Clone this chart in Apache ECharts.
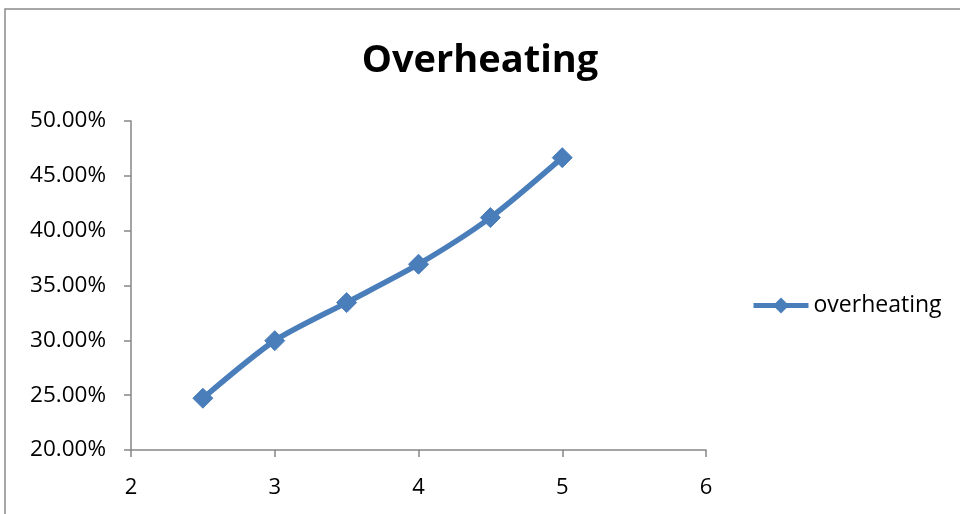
<!DOCTYPE html>
<html>
<head>
<meta charset="utf-8">
<script src="https://cdn.jsdelivr.net/npm/echarts@6/dist/echarts.min.js"></script>
<style>html,body{margin:0;padding:0;background:#fff}#c{width:960px;height:514px}</style>
</head>
<body>
<div id="c"></div>
<script>
const titleText = 'Overheating';
const seriesName = 'overheating';
const xValues = [2.5, 3, 3.5, 4, 4.5, 5];
const yValues = [0.2472, 0.2997, 0.3344, 0.3694, 0.4119, 0.4666];
const xTicks = {min: 2, max: 6, interval: 1};
const yTicks = {min: 0.2, max: 0.5, interval: 0.05};

const chart = echarts.init(document.getElementById('c'), null, {renderer: 'canvas'});
const font = '"Open Sans", "Noto Sans", sans-serif';
chart.setOption({
  animation: false,
  backgroundColor: '#fff',
  graphic: [{
    type: 'rect', silent: true,
    shape: {x: 5, y: 9, width: 1100, height: 700},
    style: {fill: 'none', stroke: '#8a8a8a', lineWidth: 1.5}
  }],
  title: {
    text: titleText, left: 'center', top: 37,
    textStyle: {fontFamily: font, fontWeight: 'bold', fontSize: 38, color: '#000'}
  },
  legend: {
    left: 746, top: 289,
    itemWidth: 55, itemHeight: 20, itemGap: 6,
    lineStyle: {width: 5},
    textStyle: {fontFamily: font, fontSize: 23, color: '#000'},
    data: [seriesName]
  },
  grid: {left: 131, right: 254, top: 121, bottom: 64, containLabel: false},
  xAxis: {
    type: 'value', min: xTicks.min, max: xTicks.max, interval: xTicks.interval,
    axisLine: {show: true, lineStyle: {color: '#868686', width: 1.5}},
    axisTick: {show: true, inside: false, length: 7, lineStyle: {color: '#868686', width: 1.5}},
    axisLabel: {margin: 27, fontFamily: font, fontSize: 22, color: '#000'},
    splitLine: {show: false}
  },
  yAxis: {
    type: 'value', min: yTicks.min, max: yTicks.max, interval: yTicks.interval,
    axisLine: {show: true, lineStyle: {color: '#868686', width: 1.5}},
    axisTick: {show: true, inside: false, length: 7, lineStyle: {color: '#868686', width: 1.5}},
    axisLabel: {margin: 25, fontFamily: font, fontSize: 22.5, color: '#000',
      formatter: v => (v * 100).toFixed(2) + '%'},
    splitLine: {show: false}
  },
  series: [{
    name: seriesName, type: 'line',
    data: xValues.map((x, i) => [x, yValues[i]]),
    smooth: 0.25,
    symbol: 'diamond', symbolSize: 20,
    lineStyle: {color: '#4A7EBB', width: 5.5},
    itemStyle: {color: '#4A7EBB', borderColor: '#4A7EBB'}
  }]
});
</script>
</body>
</html>
